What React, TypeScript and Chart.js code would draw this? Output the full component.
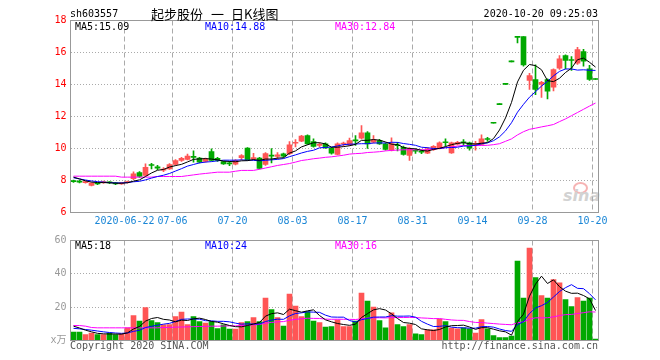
import React, { useEffect, useRef } from "react";
import { Chart, registerables } from "chart.js";

Chart.register(...registerables);

// ---------------- DATA ----------------
const dates = [
  "2020-06-09","2020-06-10","2020-06-11","2020-06-12","2020-06-15","2020-06-16","2020-06-17","2020-06-18","2020-06-19","2020-06-22",
  "2020-06-23","2020-06-24","2020-06-29","2020-06-30","2020-07-01","2020-07-02","2020-07-03","2020-07-06","2020-07-07","2020-07-08",
  "2020-07-09","2020-07-10","2020-07-13","2020-07-14","2020-07-15","2020-07-16","2020-07-17","2020-07-20","2020-07-21","2020-07-22",
  "2020-07-23","2020-07-24","2020-07-27","2020-07-28","2020-07-29","2020-07-30","2020-07-31","2020-08-03","2020-08-04","2020-08-05",
  "2020-08-06","2020-08-07","2020-08-10","2020-08-11","2020-08-12","2020-08-13","2020-08-14","2020-08-17","2020-08-18","2020-08-19",
  "2020-08-20","2020-08-21","2020-08-24","2020-08-25","2020-08-26","2020-08-27","2020-08-28","2020-08-31","2020-09-01","2020-09-02",
  "2020-09-03","2020-09-04","2020-09-07","2020-09-08","2020-09-09","2020-09-10","2020-09-11","2020-09-14","2020-09-15","2020-09-16",
  "2020-09-17","2020-09-18","2020-09-21","2020-09-22","2020-09-23","2020-09-24","2020-09-25","2020-09-28","2020-09-29","2020-09-30",
  "2020-10-09","2020-10-12","2020-10-13","2020-10-14","2020-10-15","2020-10-16","2020-10-19","2020-10-20",
];

const tickDates = ["2020-06-22","2020-07-06","2020-07-20","2020-08-03","2020-08-17","2020-08-31","2020-09-14","2020-09-28","2020-10-20"];
const tickText = ["2020-06-22","07-06","07-20","08-03","08-17","08-31","09-14","09-28","10-20"];

const opens = [
  7.97,7.96,7.87,7.70,7.82,7.87,7.88,7.80,7.79,7.86,
  8.11,8.50,8.31,8.96,8.85,8.65,8.73,9.00,9.25,9.31,
  9.47,9.40,9.20,9.81,9.38,9.19,9.06,9.02,9.42,10.02,
  9.33,9.40,9.00,9.54,9.50,9.67,9.67,10.33,10.46,10.81,
  10.44,10.20,10.29,10.02,9.63,10.28,10.23,10.52,10.65,10.98,
  10.40,10.50,10.29,9.88,10.20,10.08,9.56,9.85,9.80,9.71,
  9.92,10.02,10.38,9.73,10.27,10.38,10.36,10.25,10.25,10.58,
  11.58,12.74,14.01,15.41,16.95,17.00,14.25,14.31,14.02,14.31,
  13.83,15.02,15.81,15.52,15.33,16.06,14.98,14.31,
];
const highs = [
  8.02,8.03,7.95,7.86,7.86,7.96,7.93,7.88,7.87,7.97,
  8.54,8.56,9.04,9.08,8.95,8.80,9.05,9.30,9.45,9.65,
  9.85,9.45,9.40,9.98,9.45,9.22,9.20,9.30,9.62,10.05,
  9.70,9.45,9.75,10.00,9.75,9.72,10.44,10.55,10.82,10.85,
  10.60,10.35,10.35,10.08,10.35,10.40,10.65,10.80,11.44,11.05,
  10.80,10.58,10.35,10.67,10.38,10.15,10.05,9.98,9.92,10.05,
  10.18,10.42,10.60,10.40,10.45,10.55,10.40,10.45,10.85,10.70,
  11.58,12.74,14.01,15.41,16.95,17.00,14.70,15.23,14.20,14.35,
  14.98,15.81,15.85,15.75,16.33,16.20,15.20,14.31,
];
const lows = [
  7.88,7.85,7.84,7.66,7.74,7.82,7.80,7.74,7.76,7.83,
  8.05,8.20,8.28,8.73,8.68,8.55,8.70,8.95,9.20,9.28,
  9.15,9.10,9.15,9.22,9.20,9.00,8.92,8.98,9.30,9.25,
  9.28,8.72,8.95,9.10,9.35,9.45,9.62,10.10,10.42,10.25,
  10.08,10.10,10.00,9.65,9.60,10.15,10.18,10.20,10.60,10.00,
  10.35,10.25,9.90,9.85,9.85,9.58,9.25,9.70,9.68,9.68,
  9.88,9.98,10.15,9.70,10.22,10.20,9.90,9.90,10.22,10.45,
  11.58,12.74,14.01,15.41,16.60,15.14,13.69,13.36,13.20,13.10,
  13.60,14.95,14.98,14.88,15.25,15.15,14.25,14.31,
];
const closes = [
  7.93,7.90,7.90,7.84,7.78,7.90,7.85,7.79,7.83,7.93,
  8.42,8.25,8.83,8.94,8.77,8.67,9.00,9.25,9.38,9.52,
  9.45,9.15,9.35,9.25,9.25,9.04,9.04,9.25,9.56,9.29,
  9.43,8.75,9.69,9.52,9.60,9.52,10.23,10.36,10.77,10.29,
  10.13,10.23,10.04,9.71,10.29,10.31,10.50,10.48,10.98,10.29,
  10.54,10.29,9.94,10.29,10.17,9.63,9.98,9.83,9.77,9.98,
  10.13,10.36,10.36,10.36,10.38,10.36,10.02,10.30,10.60,10.56,
  11.58,12.74,14.01,15.41,16.95,15.23,14.56,13.69,14.14,13.58,
  14.94,15.60,15.50,15.50,16.19,15.46,14.31,14.31,
];

const ma5 = [
  8.21,8.10,7.98,7.90,7.87,7.87,7.86,7.83,7.83,7.86,
  7.96,8.04,8.25,8.47,8.64,8.69,8.84,8.93,9.01,9.16,
  9.32,9.35,9.37,9.34,9.29,9.21,9.19,9.17,9.23,9.24,
  9.31,9.26,9.34,9.34,9.40,9.42,9.71,9.85,10.10,10.23,
  10.36,10.36,10.29,10.08,10.08,10.12,10.17,10.26,10.51,10.51,
  10.56,10.52,10.41,10.27,10.25,10.06,10.00,9.98,9.88,9.84,
  9.94,10.01,10.12,10.24,10.32,10.36,10.30,10.28,10.33,10.37,
  10.62,11.16,11.91,12.88,14.16,14.89,15.25,15.18,14.92,14.24,
  14.18,14.39,14.75,15.02,15.55,15.65,15.39,15.09,
];
const ma10 = [
  8.17,8.10,8.03,7.97,7.93,7.90,7.87,7.85,7.85,7.87,
  7.92,7.95,8.04,8.15,8.25,8.33,8.44,8.59,8.74,8.90,
  9.00,9.10,9.15,9.18,9.23,9.27,9.27,9.27,9.29,9.27,
  9.26,9.23,9.26,9.29,9.32,9.37,9.49,9.60,9.72,9.82,
  9.89,10.04,10.07,10.09,10.16,10.24,10.27,10.28,10.30,10.30,
  10.34,10.35,10.34,10.39,10.38,10.31,10.26,10.20,10.08,10.05,
  10.00,10.00,10.05,10.06,10.08,10.15,10.16,10.20,10.29,10.35,
  10.49,10.73,11.10,11.61,12.27,12.76,13.21,13.55,13.90,14.20,
  14.54,14.82,14.97,14.97,14.90,14.92,14.89,14.88,
];
const ma30 = [
  8.27,8.27,8.27,8.27,8.27,8.27,8.27,8.27,8.21,8.21,
  8.21,8.21,8.21,8.21,8.25,8.25,8.25,8.25,8.25,8.30,
  8.35,8.40,8.44,8.48,8.52,8.52,8.52,8.58,8.63,8.63,
  8.63,8.70,8.78,8.86,8.94,9.00,9.06,9.15,9.25,9.30,
  9.36,9.40,9.45,9.48,9.53,9.58,9.65,9.68,9.70,9.75,
  9.77,9.80,9.85,9.88,9.90,9.92,9.92,9.92,9.92,9.92,
  9.96,10.00,10.05,10.10,10.15,10.19,10.19,10.19,10.19,10.20,
  10.24,10.30,10.45,10.60,10.85,11.05,11.20,11.27,11.35,11.42,
  11.50,11.68,11.85,12.05,12.25,12.45,12.65,12.84,
];

const volumes = [
  5.0,5.0,3.6,4.4,3.6,3.6,4.4,3.6,4.0,7.6,
  15.0,11.6,19.8,12.0,10.8,9.4,9.6,14.4,17.0,9.6,
  14.4,11.4,10.4,11.4,7.2,9.4,6.8,6.8,10.8,11.4,
  13.8,11.4,25.4,18.6,13.8,8.6,27.8,20.6,14.4,17.4,
  11.6,10.8,8.0,8.4,12.4,8.4,8.4,11.6,28.4,23.6,
  20.0,12.0,7.6,16.6,9.6,8.4,9.6,4.0,3.6,6.4,
  6.4,12.8,11.4,7.4,7.0,7.6,7.0,4.4,12.6,7.0,
  3.0,1.8,1.8,2.6,47.6,25.4,55.4,37.8,27.0,25.4,
  36.6,34.6,24.6,20.4,25.8,23.6,25.4,0.8,
];
const volMa5 = [
  8.6,7.5,6.2,5.2,4.3,4.0,3.9,3.9,3.8,4.6,
  6.9,8.4,11.6,13.2,13.8,12.7,12.3,11.2,12.2,12.0,
  13.0,13.4,12.6,11.4,11.0,10.0,9.0,8.3,8.2,9.0,
  9.9,10.8,14.6,16.1,16.6,15.6,18.8,17.9,17.0,17.8,
  18.4,15.0,12.4,11.2,10.2,9.6,9.1,9.8,13.8,16.1,
  18.4,19.1,18.3,16.0,13.2,10.8,10.4,9.6,7.0,6.4,
  6.0,6.6,8.1,8.9,9.0,9.2,8.1,6.7,7.7,7.7,
  6.8,5.8,5.2,3.2,11.4,15.8,26.6,33.8,38.6,34.2,
  36.4,32.3,29.6,28.3,28.4,27.0,25.0,18.0,
];
const volMa10 = [
  7.3,7.0,6.6,6.2,5.7,5.2,4.8,4.5,4.3,4.5,
  5.5,6.1,7.8,8.5,9.2,9.8,10.3,11.4,12.7,12.9,
  12.9,12.8,11.9,11.8,11.5,11.5,11.2,10.4,9.8,10.0,
  9.9,9.9,11.4,12.2,12.8,12.7,14.8,16.2,16.6,17.2,
  17.0,16.9,15.2,14.1,14.0,14.0,12.0,11.1,12.5,13.2,
  14.0,14.1,14.1,14.9,14.6,14.6,14.7,14.0,11.5,9.8,
  8.4,8.5,8.9,8.0,7.7,7.6,7.4,7.4,8.3,8.4,
  8.0,6.9,6.0,5.5,9.5,11.3,16.2,19.5,20.9,22.8,
  26.1,29.4,31.7,33.5,31.3,31.1,28.1,24.4,
];
const volMa30 = [
  9.0,9.0,8.6,7.8,7.6,7.6,7.6,7.6,7.6,7.6,
  7.6,7.6,7.6,7.6,7.6,7.8,7.9,8.0,8.1,8.2,
  8.3,8.4,8.5,8.6,8.6,8.7,8.8,8.8,9.0,9.13,
  9.43,9.64,10.37,10.84,11.18,11.35,12.13,12.69,13.04,13.37,
  13.25,13.23,12.83,12.71,12.77,12.73,12.69,12.6,12.98,13.45,
  13.63,13.65,13.56,13.73,13.81,13.78,13.87,13.78,13.54,13.37,
  13.13,13.17,12.71,12.33,12.11,12.07,11.38,10.84,10.78,10.43,
  10.15,9.85,9.64,9.45,10.62,11.19,12.75,13.63,13.58,13.64,
  14.19,14.95,15.51,15.64,16.18,16.69,17.21,17.1,
];

const priceTicks = { min: 6, max: 18, step: 2 };
const volTicks = { min: 0, max: 60, step: 20 };

// ---------------- STYLE ----------------
const RED = "#ff5555";
const GREEN = "#00a800";
const BLUE_LABEL = "#1a86d6";
const MONO = "'DejaVu Sans Mono', 'Noto Sans CJK SC', monospace";

const candleColors = opens.map((o, i) => (closes[i] > o ? RED : GREEN));

const framePlugin = {
  id: "frame",
  afterDraw(chart: any) {
    const { ctx, chartArea: a } = chart;
    ctx.save();
    ctx.strokeStyle = "#999";
    ctx.lineWidth = 1;
    ctx.setLineDash([]);
    ctx.strokeRect(a.left, a.top, a.right - a.left, a.bottom - a.top);
    ctx.restore();
  },
};

const tickIndexOf = (i: number) => (i === undefined ? -1 : tickDates.indexOf(dates[i]));

const xScale = (showLabels: boolean) => ({
  type: "category",
  offset: true,
  grid: {
    offset: true,
    drawTicks: false,
    lineWidth: 1,
    color: (c: any) => (c.type === "tick" && tickIndexOf(c.index) >= 0 ? "#aaaaaa" : "rgba(0,0,0,0)"),
  },
  border: { display: false, dash: [5, 3] },
  ticks: {
    display: showLabels,
    autoSkip: false,
    maxRotation: 0,
    minRotation: 0,
    color: BLUE_LABEL,
    font: { family: MONO, size: 10 },
    padding: 3,
    labelOffset: -3,
    callback: (_v: any, i: number) => {
      const k = tickIndexOf(i);
      return k >= 0 ? tickText[k] : "";
    },
  },
  afterFit: (s: any) => {
    s.height = showLabels ? 20 : 0;
  },
});

const lineDs = (data: number[], color: string) => ({
  type: "line",
  data,
  borderColor: color,
  backgroundColor: color,
  borderWidth: 1,
  pointRadius: 0,
  tension: 0,
  order: 0,
});

export default function App() {
  const priceRef = useRef<HTMLCanvasElement>(null);
  const volRef = useRef<HTMLCanvasElement>(null);

  useEffect(() => {
    const common = {
      animation: false,
      responsive: false,
      events: [],
      plugins: { legend: { display: false }, tooltip: { enabled: false } },
    };

    const price = new Chart(priceRef.current as HTMLCanvasElement, {
      type: "bar",
      data: {
        labels: dates,
        datasets: [
          lineDs(ma5, "#000000"),
          lineDs(ma10, "#0000ff"),
          lineDs(ma30, "#ff00ff"),
          {
            type: "bar",
            data: opens.map((o, i) => [o, closes[i]]),
            backgroundColor: candleColors,
            barThickness: 5,
            minBarLength: 1,
            grouped: false,
            order: 2,
          },
          {
            type: "bar",
            data: lows.map((l, i) => [l, highs[i]]),
            backgroundColor: candleColors,
            barThickness: 1,
            minBarLength: 1,
            grouped: false,
            order: 3,
          },
        ],
      } as any,
      options: {
        ...common,
        layout: { padding: { left: 0, right: 61.5, top: 20.5, bottom: 127.5 } },
        scales: {
          x: xScale(true),
          y: {
            type: "linear",
            min: priceTicks.min,
            max: priceTicks.max,
            grid: { drawTicks: false, color: "#aaaaaa", lineWidth: 1 },
            border: { display: false, dash: [1, 2] },
            ticks: {
              stepSize: priceTicks.step,
              color: "#ff0000",
              font: { family: MONO, size: 10 },
              padding: 4,
            },
            afterFit: (s: any) => {
              s.width = 70.5;
            },
          },
        },
      } as any,
      plugins: [framePlugin],
    });

    const vol = new Chart(volRef.current as HTMLCanvasElement, {
      type: "bar",
      data: {
        labels: dates,
        datasets: [
          lineDs(volMa5, "#000000"),
          lineDs(volMa10, "#0000ff"),
          lineDs(volMa30, "#ff00ff"),
          {
            type: "bar",
            data: volumes,
            backgroundColor: candleColors,
            barThickness: 5,
            grouped: false,
            order: 2,
          },
        ],
      } as any,
      options: {
        ...common,
        layout: { padding: { left: 0, right: 61.5, top: 240.5, bottom: 19.5 } },
        scales: {
          x: xScale(false),
          y: {
            type: "linear",
            min: volTicks.min,
            max: volTicks.max,
            grid: { drawTicks: false, color: "#aaaaaa", lineWidth: 1 },
            border: { display: false, dash: [1, 2] },
            ticks: {
              stepSize: volTicks.step,
              color: "#999999",
              font: { family: MONO, size: 10 },
              padding: 4,
              callback: (v: any) => (v === 0 ? "x万" : String(v)),
            },
            afterFit: (s: any) => {
              s.width = 70.5;
            },
          },
        },
      } as any,
      plugins: [framePlugin],
    });

    return () => {
      price.destroy();
      vol.destroy();
    };
  }, []);

  const mono = (extra: React.CSSProperties): React.CSSProperties => ({
    position: "absolute",
    fontFamily: MONO,
    fontSize: 10,
    lineHeight: "12px",
    whiteSpace: "pre",
    ...extra,
  });
  const cjk = (left: number): React.CSSProperties => ({
    position: "absolute",
    left,
    top: 5,
    fontFamily: "'Noto Sans CJK SC', sans-serif",
    fontSize: 13,
    lineHeight: "18px",
    color: "#000",
    whiteSpace: "pre",
  });

  return (
    <div style={{ position: "absolute", left: 0, top: 0, width: 660, height: 360, background: "#fff", overflow: "hidden" }}>
      {/* watermark */}
      <div
        style={{
          position: "absolute",
          left: 573,
          top: 182,
          width: 11,
          height: 8,
          borderRadius: "50%",
          border: "2px solid #f6b4b4",
        }}
      />
      <div
        style={{
          position: "absolute",
          left: 563,
          top: 187,
          fontFamily: "'DejaVu Sans', sans-serif",
          fontStyle: "italic",
          fontWeight: 700,
          fontSize: 16,
          lineHeight: "18px",
          color: "#d2d2d2",
        }}
      >
        sina
      </div>

      <canvas ref={priceRef} width={660} height={360} style={{ position: "absolute", left: 0, top: 0 }} />
      <canvas ref={volRef} width={660} height={360} style={{ position: "absolute", left: 0, top: 0 }} />

      {/* header */}
      <div style={mono({ left: 70, top: 8, color: "#000" })}>sh603557</div>
      <div style={cjk(151)}>起步股份</div>
      <div style={cjk(211)}>一</div>
      <div style={cjk(231)}>日K线图</div>
      <div style={mono({ right: 62, top: 8, color: "#000" })}>2020-10-20 09:25:03</div>

      {/* price legend */}
      <div style={mono({ left: 75, top: 21, color: "#000" })}>MA5:15.09</div>
      <div style={mono({ left: 205, top: 21, color: "#0000ff" })}>MA10:14.88</div>
      <div style={mono({ left: 335, top: 21, color: "#ff00ff" })}>MA30:12.84</div>

      {/* volume legend */}
      <div style={mono({ left: 75, top: 240, color: "#000" })}>MA5:18</div>
      <div style={mono({ left: 205, top: 240, color: "#0000ff" })}>MA10:24</div>
      <div style={mono({ left: 335, top: 240, color: "#ff00ff" })}>MA30:16</div>

      {/* footer */}
      <div style={mono({ left: 70, top: 340, color: "#555" })}>Copyright 2020 SINA.COM</div>
      <div style={mono({ right: 62, top: 340, color: "#555" })}>http://finance.sina.com.cn</div>
    </div>
  );
}
